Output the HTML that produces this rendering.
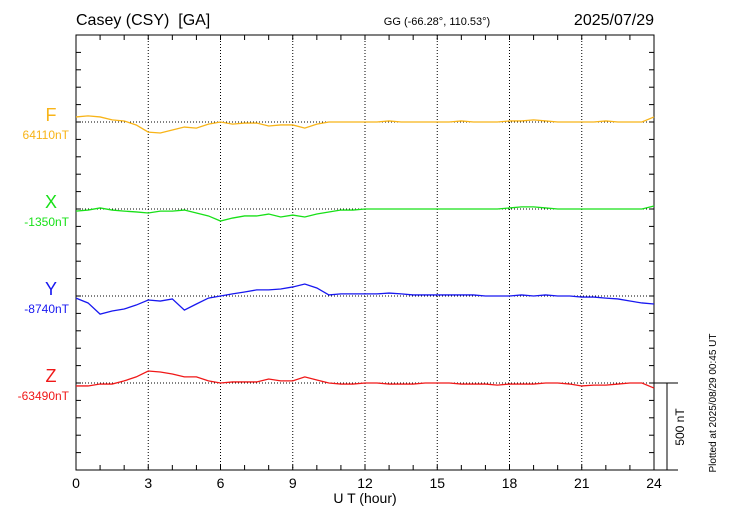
<!DOCTYPE html>
<html><head><meta charset="utf-8"><style>
body{margin:0;background:#fff;font-family:"Liberation Sans",sans-serif}
svg text{font-family:"Liberation Sans",sans-serif}
</style></head><body>
<svg id="c" width="730" height="520" viewBox="0 0 730 520">
<text x="76" y="25" font-size="16">Casey (CSY)&#160; [GA]</text>
<text x="437" y="25" font-size="11" text-anchor="middle">GG (-66.28°, 110.53°)</text>
<text x="654" y="25" font-size="16" text-anchor="end">2025/07/29</text>
<text x="365" y="503" font-size="14" text-anchor="middle">U T (hour)</text>
<text transform="translate(684,427) rotate(-90)" font-size="12" text-anchor="middle">500 nT</text>
<text transform="translate(716,403) rotate(-90)" font-size="10" text-anchor="middle">Plotted at 2025/08/29 00:45 UT</text>
<g id="g"></g>
</svg>
<script>
const hours=[0,0.5,1,1.5,2,2.5,3,3.5,4,4.5,5,5.5,6,6.5,7,7.5,8,8.5,9,9.5,10,10.5,11,11.5,12,12.5,13,13.5,14,14.5,15,15.5,16,16.5,17,17.5,18,18.5,19,19.5,20,20.5,21,21.5,22,22.5,23,23.5,24];
const xTicks=[0,3,6,9,12,15,18,21,24];
const seriesNames=["F","X","Y","Z"];
const baseLabels=["64110nT","-1350nT","-8740nT","-63490nT"];
const colors=["#f8b418","#18e018","#1818f0","#f01818"];
const fVals=[29,35,29,12,6,-17,-58,-63,-46,-29,-35,-12,0,-12,-6,-6,-23,-17,-17,-35,-12,0,0,0,0,0,6,0,0,0,0,0,6,0,0,0,6,6,12,6,0,0,0,0,6,0,0,0,29];
const xVals=[-12,-6,6,-6,-12,-17,-23,-12,-12,-6,-23,-40,-69,-52,-40,-40,-29,-46,-35,-46,-29,-17,-6,-6,0,0,0,0,0,0,0,0,0,0,0,0,6,12,12,6,0,0,0,0,0,0,0,0,17];
const yVals=[-12,-40,-104,-86,-75,-52,-23,-29,-17,-81,-46,-12,0,12,23,35,35,40,52,69,46,6,12,12,12,12,17,12,6,6,6,6,6,6,0,0,0,6,0,6,0,0,-6,-6,-12,-17,-29,-40,-46];
const zVals=[-17,-17,-6,-6,12,35,69,63,52,35,35,12,0,6,6,6,23,12,12,35,17,0,-6,-6,0,0,-6,-6,-6,0,0,0,-6,-6,-6,-12,-6,-6,-6,0,0,-6,-17,-12,-12,-6,0,0,-29];
const allVals=[fVals,xVals,yVals,zVals];
const L=76,R=654,T=35,B=470,pxPerNT=87/500;
const baseY=[122,209,296,383];
const xs=h=>L+(R-L)*h/24;
const ys=(i,v)=>baseY[i]-v*pxPerNT;
const g=document.getElementById('g');
const NS='http://www.w3.org/2000/svg';
function mk(t,a){const e=document.createElementNS(NS,t);for(const k in a)e.setAttribute(k,a[k]);g.appendChild(e);return e;}
xTicks.slice(1,-1).forEach(h=>{const e=mk('line',{x1:xs(h),x2:xs(h),y1:T,y2:B,stroke:'#000','stroke-width':1,'stroke-dasharray':'1,2'});

});
baseY.forEach((y,i)=>{const e=mk('line',{x1:L,x2:R,y1:y,y2:y,stroke:'#000','stroke-width':1,'stroke-dasharray':'1,2'});

});
const fr=mk('rect',{x:L,y:T,width:R-L,height:B-T,fill:'none',stroke:'#000','stroke-width':1});


const ax=mk('line',{x1:L,x2:678,y1:B,y2:B,stroke:'#000'});


const zl=mk('line',{x1:R,x2:678,y1:383,y2:383,stroke:'#000'});


const sb=mk('line',{x1:667,x2:667,y1:383,y2:B,stroke:'#000'});


for(let h=0;h<=24;h++){const x=xs(h);
const a=mk('line',{x1:x,x2:x,y1:B,y2:B-5,stroke:'#000'});


const b=mk('line',{x1:x,x2:x,y1:T,y2:T+5,stroke:'#000'});

}
for(let k=0;k<=25;k++){const y=B-k*100*pxPerNT;
const a=mk('line',{x1:L,x2:L+5,y1:y,y2:y,stroke:'#000'});


const b=mk('line',{x1:R,x2:R-5,y1:y,y2:y,stroke:'#000'});

}
xTicks.forEach(h=>{const t=mk('text',{x:xs(h),y:488,'font-size':14,'text-anchor':'middle'});t.textContent=h;

});
allVals.forEach((vals,i)=>{
const p=mk('polyline',{points:vals.map((v,j)=>xs(hours[j])+','+ys(i,v)).join(' '),fill:'none',stroke:colors[i],'stroke-width':1.3});


const n=mk('text',{x:51,y:baseY[i]-1,'font-size':18,'text-anchor':'middle',fill:colors[i]});n.textContent=seriesNames[i];


const b=mk('text',{x:69,y:baseY[i]+17,'font-size':12,'text-anchor':'end',fill:colors[i]});b.textContent=baseLabels[i];


});
</script>
</body></html>
